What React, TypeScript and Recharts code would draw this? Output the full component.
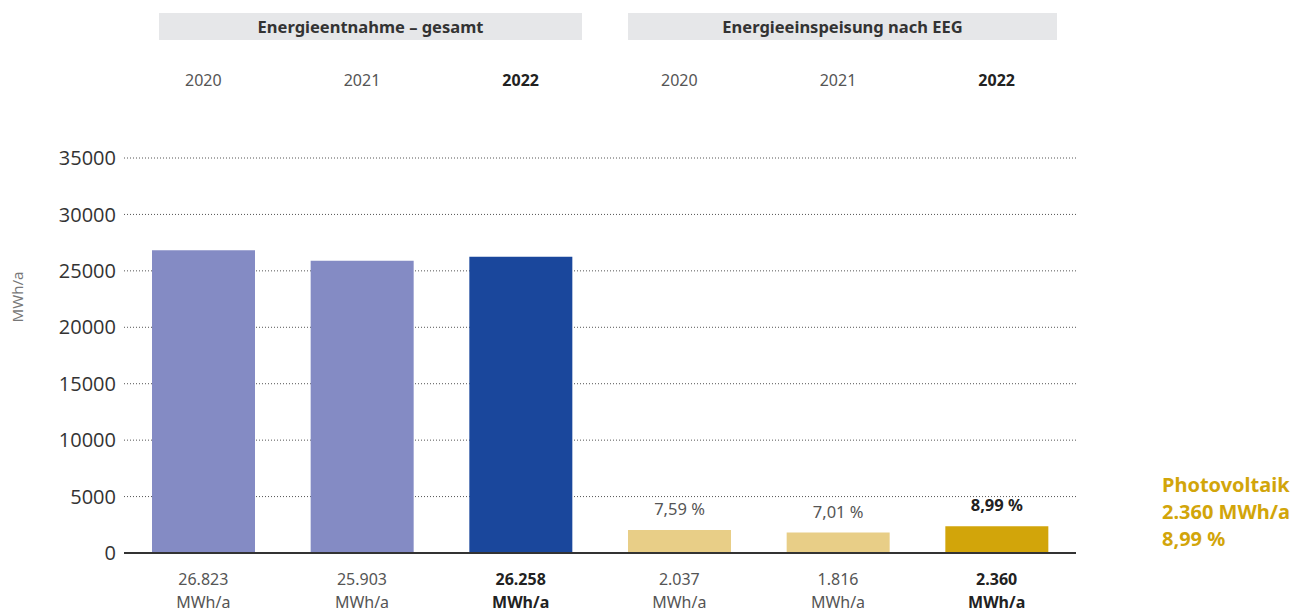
import React from 'react';
import { BarChart, Bar, XAxis, YAxis, CartesianGrid, Cell, LabelList } from 'recharts';

const years = ['2020', '2021', '2022', '2020', '2021', '2022'];
const values = [26823, 25903, 26258, 2037, 1816, 2360];
const valueLabels = ['26.823', '25.903', '26.258', '2.037', '1.816', '2.360'];
const shareLabels = ['', '', '', '7,59 %', '7,01 %', '8,99 %'];
const isCurrent = [false, false, true, false, false, true];
const barColors = ['#848BC4', '#848BC4', '#1A479C', '#E8CE87', '#E8CE87', '#D2A50A'];
const yTicks = [0, 5000, 10000, 15000, 20000, 25000, 30000, 35000];
const groupTitles = ['Energieentnahme – gesamt', 'Energieeinspeisung nach EEG'];
const legendLines = ['Photovoltaik', '2.360 MWh/a', '8,99 %'];

const data = years.map((year, i) => ({
  id: i,
  year,
  value: values[i],
  share: shareLabels[i],
}));

const FONT = '"Noto Sans", sans-serif';

const TopTick = (props: any) => {
  const { x, index } = props;
  const bold = isCurrent[index];
  return (
    <text x={x} y={86} textAnchor="middle" fontFamily={FONT} fontSize={16}
      fontWeight={bold ? 700 : 400} fill={bold ? '#222' : '#555'}>
      {years[index]}
    </text>
  );
};

const BottomTick = (props: any) => {
  const { x, index } = props;
  const bold = isCurrent[index];
  return (
    <g fontFamily={FONT} fontSize={16} fontWeight={bold ? 700 : 400} fill={bold ? '#222' : '#555'}>
      <text x={x} y={585} textAnchor="middle">{valueLabels[index]}</text>
      <text x={x} y={608} textAnchor="middle">MWh/a</text>
    </g>
  );
};

const ShareLabel = (props: any) => {
  const { x, y, width, value, index } = props;
  if (!value) return null;
  const bold = isCurrent[index];
  return (
    <text x={x + width / 2} y={y - 15} textAnchor="middle" fontFamily={FONT} fontSize={16.5}
      fontWeight={bold ? 700 : 400} fill={bold ? '#222' : '#555'}>
      {value}
    </text>
  );
};

const YLabel = () => (
  <text x={0} y={0} transform="translate(23 297) rotate(-90)" textAnchor="middle"
    fontFamily={FONT} fontSize={15} fill="#777">
    MWh/a
  </text>
);

export default function App() {
  return (
    <div style={{ position: 'absolute', left: 0, top: 0, width: 1306, height: 614, fontFamily: FONT, background: '#fff' }}>
      <BarChart width={1306} height={614} data={data}
        margin={{ top: 0, right: 230, bottom: 0, left: 0 }}>
        <CartesianGrid horizontal vertical={false} stroke="#555" strokeDasharray="1 2" />
        <XAxis xAxisId="top" orientation="top" dataKey="id" height={158}
          axisLine={false} tickLine={false} tick={<TopTick />} interval={0} />
        <XAxis dataKey="id" height={61} interval={0} tickLine={false}
          axisLine={{ stroke: '#333', strokeWidth: 2 }} tick={<BottomTick />} />
        <YAxis width={124} domain={[0, 35000]} ticks={yTicks} interval={0}
          axisLine={false} tickLine={false} tickMargin={2}
          tick={{ fontFamily: '"Open Sans", sans-serif', fontSize: 20, fill: '#333' }}
          label={<YLabel />} />
        <Bar dataKey="value" barSize={103} isAnimationActive={false}>
          {data.map((d, i) => (
            <Cell key={d.id} fill={barColors[i]} />
          ))}
          <LabelList dataKey="share" content={<ShareLabel />} />
        </Bar>
      </BarChart>

      {groupTitles.map((title, i) => (
        <div key={title} style={{
          position: 'absolute', top: 13, height: 27, left: i === 0 ? 159 : 628, width: i === 0 ? 423 : 429,
          background: '#E6E7E9', color: '#333', fontWeight: 700, fontSize: 16.5,
          display: 'flex', alignItems: 'center', justifyContent: 'center',
        }}>
          {title}
        </div>
      ))}

      <div style={{ position: 'absolute', left: 1162, top: 471, color: '#D2A50A', fontWeight: 700, fontSize: 20, lineHeight: '27px' }}>
        {legendLines.map((line) => (
          <div key={line}>{line}</div>
        ))}
      </div>
    </div>
  );
}
